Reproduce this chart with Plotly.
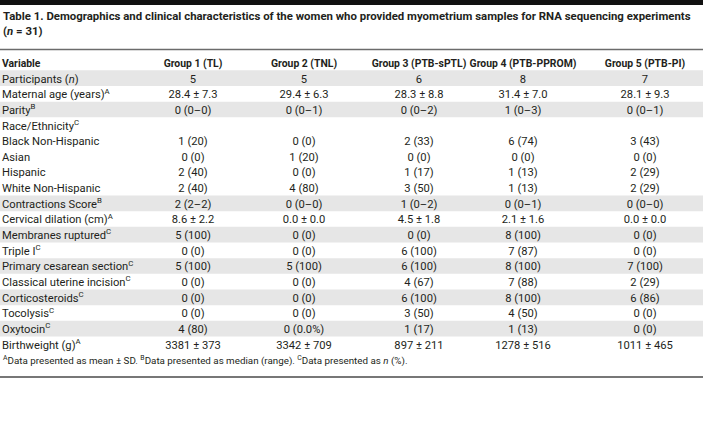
import plotly.graph_objects as go

# ---------------- data ----------------
title_text = ("<b>Table 1. Demographics and clinical characteristics of the women who provided myometrium "
              "samples for RNA sequencing experiments<br>(<i>n</i> = 31)</b>")
header_labels = ["Variable", "Group 1 (TL)", "Group 2 (TNL)", "Group 3 (PTB-sPTL)",
                 "Group 4 (PTB-PPROM)", "Group 5 (PTB-PI)"]
variables = [
    "Participants (<i>n</i>)", "Maternal age (years)<sup>A</sup>", "Parity<sup>B</sup>",
    "Race/Ethnicity<sup>C</sup>", "Black Non-Hispanic", "Asian", "Hispanic", "White Non-Hispanic",
    "Contractions Score<sup>B</sup>", "Cervical dilation (cm)<sup>A</sup>", "Membranes ruptured<sup>C</sup>",
    "Triple I<sup>C</sup>", "Primary cesarean section<sup>C</sup>", "Classical uterine incision<sup>C</sup>",
    "Corticosteroids<sup>C</sup>", "Tocolysis<sup>C</sup>", "Oxytocin<sup>C</sup>", "Birthweight (g)<sup>A</sup>",
]
group1 = ["5", "28.4 ± 7.3", "0 (0–0)", "", "1 (20)", "0 (0)", "2 (40)", "2 (40)", "2 (2–2)",
          "8.6 ± 2.2", "5 (100)", "0 (0)", "5 (100)", "0 (0)", "0 (0)", "0 (0)", "4 (80)", "3381 ± 373"]
group2 = ["5", "29.4 ± 6.3", "0 (0–1)", "", "0 (0)", "1 (20)", "0 (0)", "4 (80)", "0 (0–0)",
          "0.0 ± 0.0", "0 (0)", "0 (0)", "5 (100)", "0 (0)", "0 (0)", "0 (0)", "0 (0.0%)", "3342 ± 709"]
group3 = ["6", "28.3 ± 8.8", "0 (0–2)", "", "2 (33)", "0 (0)", "1 (17)", "3 (50)", "1 (0–2)",
          "4.5 ± 1.8", "0 (0)", "6 (100)", "6 (100)", "4 (67)", "6 (100)", "3 (50)", "1 (17)", "897 ± 211"]
group4 = ["8", "31.4 ± 7.0", "1 (0–3)", "", "6 (74)", "0 (0)", "1 (13)", "1 (13)", "0 (0–1)",
          "2.1 ± 1.6", "8 (100)", "7 (87)", "8 (100)", "7 (88)", "8 (100)", "4 (50)", "1 (13)", "1278 ± 516"]
group5 = ["7", "28.1 ± 9.3", "0 (0–1)", "", "3 (43)", "0 (0)", "2 (29)", "2 (29)", "0 (0–0)",
          "0.0 ± 0.0", "0 (0)", "0 (0)", "7 (100)", "2 (29)", "6 (86)", "0 (0)", "0 (0)", "1011 ± 465"]
footnote_text = ("<sup>A</sup>Data presented as mean ± SD. <sup>B</sup>Data presented as median (range). "
                 "<sup>C</sup>Data presented as <i>n</i> (%).")

# ---------------- styles / layout ----------------
W, H = 703, 436
FONT = "Roboto, Lato, sans-serif"
TXT = "#231f20"
SHADE = "#e6e6e6"
ROW_H = 15.65
FIRST_ROW_PX = 78.2           # pixel centre of first data row
TEXT_DY = 0.1                 # small downward nudge of text inside its row (rows)
col_x = [2, 193, 304, 419, 523, 645]
shaded_rows = [0, 2, 8, 10, 12, 14, 16]
BODY_SIZE = 11.2
HEAD_SIZE = 10.4
TITLE_SIZE = 11.4
FOOT_SIZE = 9.8

columns = [variables, group1, group2, group3, group4, group5]
rows_idx = list(range(len(variables)))

fig = go.Figure()

# header row (index -1)
for j, lab in enumerate(header_labels):
    fig.add_trace(go.Scatter(
        x=[col_x[j]], y=[-1 + TEXT_DY], mode="text", text=[f"<b>{lab}</b>"],
        textposition="middle right" if j == 0 else "middle center",
        textfont=dict(family=FONT, size=HEAD_SIZE, color=TXT),
        hoverinfo="skip", showlegend=False, cliponaxis=False))

# body columns
for j, col in enumerate(columns):
    keep = [i for i in rows_idx if col[i] != ""]
    fig.add_trace(go.Scatter(
        x=[col_x[j]] * len(keep), y=[i + TEXT_DY for i in keep], mode="text",
        text=[col[i] for i in keep],
        textposition="middle right" if j == 0 else "middle center",
        textfont=dict(family=FONT, size=BODY_SIZE, color=TXT),
        hoverinfo="skip", showlegend=False, cliponaxis=False))

shapes = []
for r in shaded_rows:
    shapes.append(dict(type="rect", xref="paper", yref="y", x0=0, x1=1,
                       y0=r - 0.5, y1=r + 0.5, fillcolor=SHADE, line=dict(width=0),
                       layer="below"))
# rules
shapes.append(dict(type="rect", xref="paper", yref="paper", x0=0, x1=1,
                   y0=1 - 5 / H, y1=1, fillcolor="#111111", line=dict(width=0)))
shapes.append(dict(type="line", xref="paper", yref="paper", x0=0, x1=1,
                   y0=1 - 49.5 / H, y1=1 - 49.5 / H, line=dict(color="#6b6b6b", width=1.5)))
shapes.append(dict(type="line", xref="paper", yref="paper", x0=0, x1=1,
                   y0=1 - 377 / H, y1=1 - 377 / H, line=dict(color="#777777", width=2)))

y_top = (0 - FIRST_ROW_PX) / ROW_H
y_bot = (H - FIRST_ROW_PX) / ROW_H

fig.update_layout(
    width=W, height=H, margin=dict(l=0, r=0, t=0, b=0),
    paper_bgcolor="white", plot_bgcolor="white",
    xaxis=dict(range=[0, W], visible=False, fixedrange=True),
    yaxis=dict(range=[y_bot, y_top], visible=False, fixedrange=True),
    shapes=shapes,
    annotations=[
        dict(text=title_text, xref="paper", yref="paper", x=1 / W, y=1 - 6.5 / H,
             xanchor="left", yanchor="top", align="left", showarrow=False,
             font=dict(family=FONT, size=TITLE_SIZE, color=TXT)),
        dict(text=footnote_text, xref="paper", yref="paper", x=1 / W, y=1 - 360.5 / H,
             xanchor="left", yanchor="middle", align="left", showarrow=False,
             font=dict(family=FONT, size=FOOT_SIZE, color=TXT)),
    ],
)

fig.write_html("out.html", config={"displayModeBar": False},
               post_script="document.body.style.margin='0';")
